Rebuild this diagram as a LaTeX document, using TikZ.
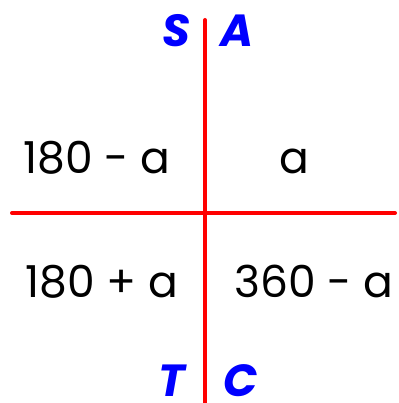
\documentclass[tikz,border=0pt]{standalone}
\usepackage{fontspec}
\setmainfont{Poppins}
\begin{document}
\begin{tikzpicture}[x=1pt,y=-1pt,
  axis/.style={draw=red, line width=4pt, line cap=round},
  quad/.style={font=\fontsize{44}{44}\selectfont, text=black, inner sep=0pt, anchor=base},
  letter/.style={font=\fontsize{45}{45}\selectfont\bfseries\itshape, text=blue, inner sep=0pt, anchor=base}]
\useasboundingbox (0,0) rectangle (398,403);
\coordinate (vtop) at (205,20);
\coordinate (vbot) at (205,405);
\coordinate (hl) at (12,213);
\coordinate (hr) at (395,213);
\draw[axis] (vtop) -- (vbot);
\draw[axis] (hl) -- (hr);
\node[letter] (S) at (176,47) {S};
\node[letter] (A) at (237,47) {A};
\node[letter] (T) at (172,396) {T};
\node[letter] (C) at (241,396) {C};
\node[quad] (q2) at (97,173) {180 - a};
\node[quad] (q1) at (294,173) {a};
\node[quad] (q3) at (102,297) {180 + a};
\node[quad] (q4) at (314,297) {360 - a};
\end{tikzpicture}
\end{document}
